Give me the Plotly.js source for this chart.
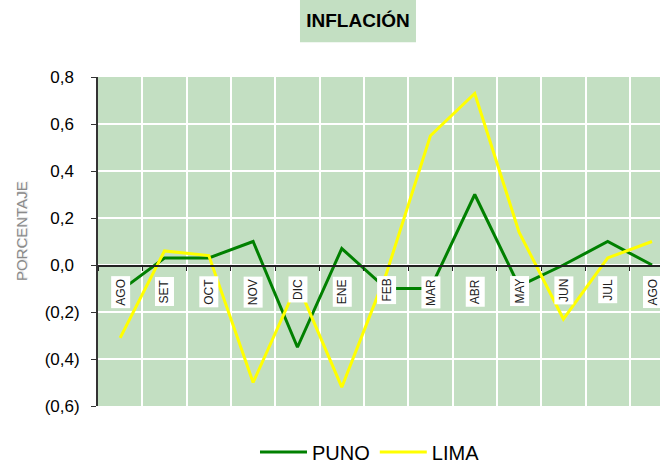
<!DOCTYPE html>
<html>
<head>
<meta charset="utf-8">
<script src="https://cdn.plot.ly/plotly-3.0.1.min.js"></script>
<style>html,body{margin:0;padding:0;background:#fff;}#chart{width:660px;height:463px;}</style>
</head>
<body>
<div id="chart"></div>
<script>
// Data
const months = ['AGO','SET','OCT','NOV','DIC','ENE','FEB','MAR','ABR','MAY','JUN','JUL','AGO'];
const puno = [-0.11, 0.03, 0.03, 0.10, -0.35, 0.07, -0.10, -0.10, 0.30, -0.09, 0.00, 0.10, 0.00];
const lima = [-0.31, 0.06, 0.04, -0.50, -0.08, -0.52, -0.04, 0.55, 0.73, 0.14, -0.23, 0.03, 0.10];
const yTickVals = [-0.6, -0.4, -0.2, 0.0, 0.2, 0.4, 0.6, 0.8];
const yTickText = ['(0,6)', '(0,4)', '(0,2)', '0,0', '0,2', '0,4', '0,6', '0,8'];

const xIdx = months.map((m, i) => i);
const yMin = -0.6, yMax = 0.8;
const FONT = 'Liberation Sans, Arial, sans-serif';

// Excel-style alignment: positive labels keep room for the closing parenthesis
const yTickShown = yTickText.map(t => t.endsWith(')') ? t : t + '<span style="color:rgba(0,0,0,0)">)</span>');

const traces = [
  {x: xIdx, y: puno, name: 'PUNO', type: 'scatter', mode: 'lines',
   line: {color: '#008000', width: 3}},
  {x: xIdx, y: lima, name: 'LIMA', type: 'scatter', mode: 'lines',
   line: {color: '#ffff00', width: 3}}
];

const monthLabels = months.map((m, i) => ({
  x: i, y: 0, xref: 'x', yref: 'y', text: m, showarrow: false,
  textangle: -90, xanchor: 'center', yanchor: 'top', yshift: -11,
  bgcolor: '#ffffff', borderpad: 2,
  font: {family: FONT, size: 12, color: '#222222'}
}));

const layout = {
  width: 660, height: 463,
  margin: {l: 98, r: 0, t: 77, b: 57},
  paper_bgcolor: '#ffffff',
  plot_bgcolor: '#c3dfc2',
  title: {text: '<b>INFLACIÓN</b>', x: 0.5424, xanchor: 'center', y: 0.955, yanchor: 'middle',
          font: {family: FONT, size: 19, color: '#000000'}},
  showlegend: true,
  legend: {orientation: 'h', x: 0.5606, xref: 'container', xanchor: 'center',
           y: 0.024, yref: 'container', yanchor: 'middle',
           font: {family: FONT, size: 20, color: '#000000'}, itemwidth: 47},
  xaxis: {
    type: 'linear', range: [-0.5, 12.18],
    anchor: 'free', position: (0 - yMin) / (yMax - yMin),
    tick0: -0.5, dtick: 1,
    showticklabels: false,
    ticks: 'outside', ticklen: 4, tickcolor: '#222222', tickwidth: 1,
    showline: true, linecolor: '#222222', linewidth: 1.5,
    showgrid: true, gridcolor: '#ffffff', gridwidth: 2,
    zeroline: false
  },
  yaxis: {
    range: [yMin, yMax],
    tickvals: yTickVals, ticktext: yTickShown,
    tickfont: {family: FONT, size: 17, color: '#000000'},
    ticks: 'outside', ticklen: 5, tickcolor: '#333333',
    ticklabelstandoff: 8,
    showline: true, linecolor: '#333333', linewidth: 2,
    showgrid: true, gridcolor: '#ffffff', gridwidth: 2,
    zeroline: false
  },
  shapes: [
    {type: 'rect', xref: 'paper', yref: 'paper', x0: 0.3594, x1: 0.5658, y0: 1.106, y1: 1.234,
     fillcolor: '#c3dfc2', line: {width: 0}, layer: 'below'}
  ],
  annotations: monthLabels.concat([
    {xref: 'paper', yref: 'paper', x: -0.135, y: 0.532, xanchor: 'center', yanchor: 'middle',
     text: 'PORCENTAJE', showarrow: false, textangle: -90,
     font: {family: FONT, size: 15, color: '#8a8a8a', shadow: '1px 1px 1px #e2e2e2'}}
  ])
};

Plotly.newPlot('chart', traces, layout, {displayModeBar: false, staticPlot: true});
</script>
</body>
</html>
